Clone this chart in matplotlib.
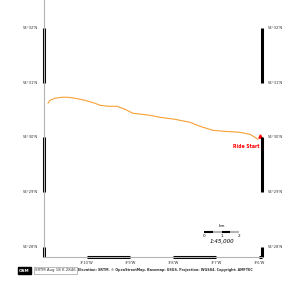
import matplotlib
matplotlib.use("Agg")
import matplotlib.pyplot as plt

# Track (lon, lat in degrees)
track_lon = [-3.18178, -3.18101, -3.17907, -3.17636, -3.17403, -3.17132, -3.16744,
             -3.16356, -3.16163, -3.15852, -3.15504, -3.15194, -3.14884, -3.14535,
             -3.14225, -3.13837, -3.13256, -3.12674, -3.12287, -3.11783, -3.11318,
             -3.10736, -3.10349, -3.10155, -3.10039]
track_lat = [54.51040, 54.51131, 54.51193, 54.51223, 54.51223, 54.51193, 54.51131,
             54.51040, 54.50978, 54.50948, 54.50948, 54.50856, 54.50734, 54.50703,
             54.50673, 54.50612, 54.50550, 54.50459, 54.50336, 54.50214, 54.50183,
             54.50153, 54.50092, 54.50000, 54.49939]
start_lon, start_lat = -3.09961, 54.50031
start_label = "Ride Start"

lon_ticks = [-3 - 10/60, -3 - 9/60, -3 - 8/60, -3 - 7/60, -3 - 6/60]
lon_labels = ["3°10'W", "3°9'W", "3°8'W", "3°7'W", "3°6'W"]
lat_ticks = [54 + 32/60, 54 + 31/60, 54 + 30/60, 54 + 29/60, 54 + 28/60]
lat_labels = ["54°32'N", "54°31'N", "54°30'N", "54°29'N", "54°28'N"]

xlim = (-3.18333, -3.09884)
ylim = (54.4635, 54.5419)

fig = plt.figure(figsize=(2.97, 2.97), dpi=100)
ax = fig.add_axes([44/297, 40/297, 218/297, 257/297])
ax.set_xlim(*xlim)
ax.set_ylim(*ylim)
ax.set_xticks([]); ax.set_yticks([])
for s in ["top", "right"]:
    ax.spines[s].set_visible(False)
for s in ["left", "bottom"]:
    ax.spines[s].set_color("#b4b4b4")
    ax.spines[s].set_linewidth(0.8)

ax.plot(track_lon, track_lat, color="#f7a035", lw=0.8, solid_capstyle="round")
ax.plot([start_lon], [start_lat], marker="^", color="red", ms=2.3, mec="red")
ax.text(start_lon - 0.0003, start_lat - 0.0030, start_label, color="red",
        fontsize=3.3, fontweight="bold", ha="right", va="center")

# frame segments
def vseg(x, y0, y1):
    ax.plot([x, x], [y0, y1], color="black", lw=2.2, clip_on=False, solid_capstyle="butt")

def hseg(y, x0, x1):
    ax.plot([x0, x1], [y, y], color="black", lw=2.2, clip_on=False, solid_capstyle="butt")

lat_ext = lat_ticks + [ylim[0]]
for i in range(0, len(lat_ticks), 2):
    vseg(xlim[0], lat_ext[i], lat_ext[i + 1])
    vseg(xlim[1], lat_ext[i], lat_ext[i + 1])
lon_ext = lon_ticks + [xlim[1]]
for i in range(0, len(lon_ticks), 2):
    hseg(ylim[0], lon_ext[i], lon_ext[i + 1])

for t, lab in zip(lat_ticks, lat_labels):
    ax.annotate(lab, (0, t), xycoords=("axes fraction", "data"), xytext=(-4, 0),
                textcoords="offset points", ha="right", va="center", fontsize=2.7, color="#333")
    ax.annotate(lab, (1, t), xycoords=("axes fraction", "data"), xytext=(4, 0),
                textcoords="offset points", ha="left", va="center", fontsize=2.7, color="#333")
for t, lab in zip(lon_ticks, lon_labels):
    ax.annotate(lab, (t, 0), xycoords=("data", "axes fraction"), xytext=(0, -3),
                textcoords="offset points", ha="center", va="top", fontsize=2.7, color="#333")

# scale bar
sb_x = [204, 213, 222, 230, 239]
sb_y = 297 - 232
for i in range(4):
    fig.add_artist(plt.Line2D([sb_x[i]/297, sb_x[i+1]/297], [sb_y/297, sb_y/297],
                              color="black" if i % 2 == 0 else "#b4b4b4", lw=1.5,
                              solid_capstyle="butt"))
for xx, lab in zip([204, 222, 239], ["0", "1", "2"]):
    fig.text(xx/297, (sb_y - 4)/297, lab, fontsize=3, ha="center", va="center")
fig.text(222/297, (sb_y + 6)/297, "km", fontsize=3, ha="center", va="center")
fig.text(222/297, (sb_y - 10)/297, "1:45,000", fontsize=4, style="italic",
         ha="center", va="center")

# attribution
fig.text(19/297, 26.5/297, "OSM", fontsize=3, color="white", fontweight="bold",
         va="center", ha="left", bbox=dict(facecolor="black", edgecolor="black", pad=0.8))
fig.text(35/297, 26.5/297, "SRTM Aug 18 K 2846", fontsize=2.8, color="#333",
         va="center", ha="left", bbox=dict(facecolor="white", edgecolor="#888", pad=0.8, lw=0.4))
fig.text(78/297, 26.5/297,
         "Elevation: SRTM. © OpenStreetMap. Basemap: USGS. Projection: WGS84. Copyright: AMFTEC",
         fontsize=2.4, color="#333", va="center", ha="left", fontweight="bold")

fig.savefig("out.png", dpi=100)
